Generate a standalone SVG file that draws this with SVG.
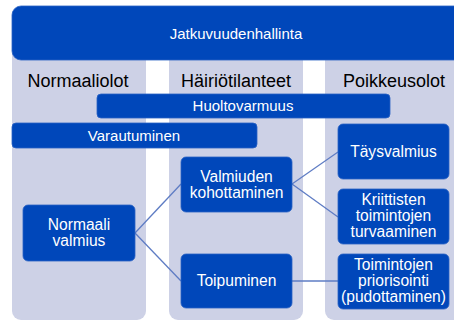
<svg xmlns="http://www.w3.org/2000/svg" width="454" height="322" viewBox="0 0 454 322">
<style>
.col{fill:#CDD1E6}
.box{fill:#0047BA;stroke:#2A62C4;stroke-width:0.8}
.t{fill:#fff;font-family:"Liberation Sans",Arial,sans-serif;font-size:15px;text-anchor:middle}
.n{font-size:15.6px}
.h{fill:#000;font-family:"Liberation Sans",Arial,sans-serif;font-size:18px;text-anchor:middle}
.ln{stroke:#5E7CC4;stroke-width:1.3;fill:none}
</style>
<rect width="454" height="322" fill="#fff"/>
<g id="columns">
<rect class="col" x="12" y="30" width="134" height="290" rx="9"/>
<rect class="col" x="169" y="30" width="134" height="290" rx="9"/>
<rect class="col" x="325" y="30" width="140" height="290" rx="9"/>
</g>
<g id="jatkuvuudenhallinta">
<rect class="box" x="12" y="6" width="455" height="54" rx="9"/>
<text class="t" x="236" y="39">Jatkuvuudenhallinta</text>
</g>
<g id="headers">
<text class="h" x="78" y="87">Normaaliolot</text>
<text class="h" x="236" y="87">Häiriötilanteet</text>
<text class="h" x="394" y="87">Poikkeusolot</text>
</g>
<g id="connectors">
<line class="ln" x1="135" y1="233" x2="181" y2="184"/>
<line class="ln" x1="135" y1="233" x2="181" y2="281"/>
<line class="ln" x1="292" y1="184" x2="338" y2="152"/>
<line class="ln" x1="292" y1="184" x2="338" y2="217"/>
<line class="ln" x1="292" y1="281" x2="338" y2="281"/>
</g>
<g id="huoltovarmuus">
<rect class="box" x="97" y="94" width="293" height="24" rx="4"/>
<text class="t" x="243" y="111">Huoltovarmuus</text>
</g>
<g id="varautuminen">
<rect class="box" x="12" y="123" width="245" height="25" rx="4"/>
<text class="t" x="134" y="141">Varautuminen</text>
</g>
<g id="normaali">
<rect class="box" x="23" y="205" width="112" height="56" rx="5"/>
<text class="t n" x="79" y="230">Normaali</text>
<text class="t n" x="79" y="246">valmius</text>
</g>
<g id="valmiuden">
<rect class="box" x="181" y="157" width="111" height="55" rx="5"/>
<text class="t n" x="236.5" y="182">Valmiuden</text>
<text class="t n" x="236.5" y="198">kohottaminen</text>
</g>
<g id="toipuminen">
<rect class="box" x="181" y="254" width="111" height="54" rx="5"/>
<text class="t n" x="236.5" y="286">Toipuminen</text>
</g>
<g id="taysvalmius">
<rect class="box" x="338" y="124" width="111" height="55" rx="5"/>
<text class="t n" x="393.5" y="157">Täysvalmius</text>
</g>
<g id="kriittisten">
<rect class="box" x="338" y="189" width="111" height="55" rx="5"/>
<text class="t n" x="393.5" y="205">Kriittisten</text>
<text class="t n" x="393.5" y="221">toimintojen</text>
<text class="t n" x="393.5" y="237">turvaaminen</text>
</g>
<g id="priorisointi">
<rect class="box" x="338" y="254" width="111" height="55" rx="5"/>
<text class="t n" x="393.5" y="270">Toimintojen</text>
<text class="t n" x="393.5" y="286">priorisointi</text>
<text class="t n" x="393.5" y="302">(pudottaminen)</text>
</g>
</svg>
